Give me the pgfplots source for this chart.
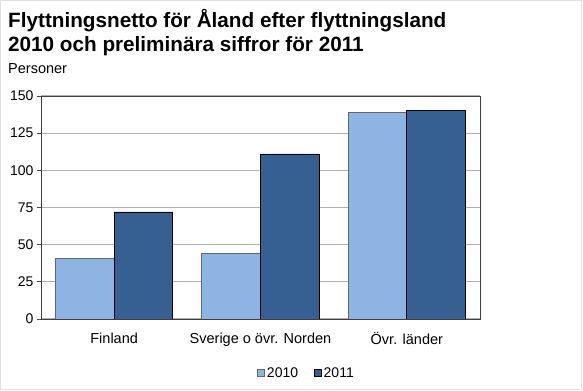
\documentclass[border=0pt]{standalone}
\usepackage{fontspec}
\setmainfont{Liberation Sans}
\usepackage{pgfplots}
\pgfplotsset{compat=1.18}
\definecolor{lightbar}{HTML}{8EB4E3}
\definecolor{darkbar}{HTML}{366092}
\definecolor{gridc}{HTML}{B0B0B0}
\definecolor{framec}{HTML}{E0E0E0}
\begin{document}
\begin{tikzpicture}
\path[use as bounding box] (0,0) rectangle (583bp,391bp);
\fill[white] (0,0) rectangle (583bp,391bp);
\draw[framec, line width=1bp] (0.5bp,1.5bp) rectangle (581.5bp,390.5bp);
\node[anchor=base west, inner sep=0pt, font=\fontsize{20.7bp}{24bp}\selectfont\bfseries] at (8bp,363.5bp) {Flyttningsnetto för Åland efter flyttningsland};
\node[anchor=base west, inner sep=0pt, font=\fontsize{20.7bp}{24bp}\selectfont\bfseries] at (8bp,339.5bp) {2010 och preliminära siffror för 2011};
\node[anchor=base west, inner sep=0pt, font=\fontsize{14.5bp}{17bp}\selectfont] at (8bp,317bp) {Personer};
\begin{axis}[
  at={(41bp,72bp)}, anchor=south west,
  scale only axis, width=439bp, height=223bp,
  ymin=0, ymax=150, ytick={0,25,50,75,100,125,150},
  xmin=-0.5, xmax=2.5,
  xtick={0,1,2}, xticklabels={Finland,Sverige o övr. Norden,Övr. länder},
  x tick style={draw=none},
  ytick pos=left,
  y tick style={black!70, line width=0.8bp},
  tick align=outside, major tick length=4bp,
  ymajorgrids, grid style={gridc, line width=1bp},
  axis line style={black!75, line width=0.8bp},
  /pgf/number format/assume math mode=true,
  tick label style={font=\fontsize{14bp}{16bp}\selectfont},
  xticklabel style={font=\fontsize{14.5bp}{17bp}\selectfont, yshift=-6bp},
  ybar, bar width=58.7bp,
  legend columns=2,
  legend style={at={(0.605,-0.242)}, anchor=center, draw=none, fill=none,
    font=\fontsize{14bp}{16bp}\selectfont,
    /tikz/every even column/.append style={column sep=14bp}},
  legend image code/.code={\draw[#1, line width=0.6bp] (0bp,-3.5bp) rectangle (7bp,3.5bp);},
]
\addplot[fill=lightbar, draw=black!60, line width=0.8bp, bar shift=-29.35bp] coordinates {(0,41) (1,44) (2,139)};
\addplot[fill=darkbar, draw=black, line width=0.8bp, bar shift=29.35bp] coordinates {(0,72) (1,111) (2,140)};
\legend{2010,2011}
\end{axis}
\end{tikzpicture}
\end{document}
